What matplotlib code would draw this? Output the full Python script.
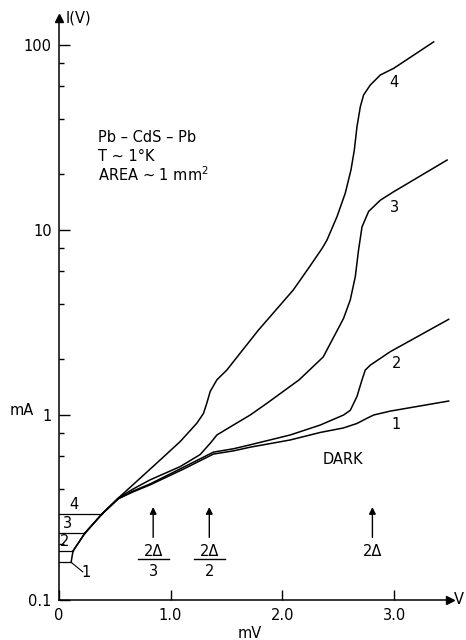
import matplotlib.pyplot as plt
from matplotlib.ticker import FixedLocator, FixedFormatter, NullFormatter

# I-V curves of Pb-CdS-Pb junction (mV, mA)
v1 = [0.111, 0.128, 0.235, 0.388, 0.534, 0.665, 0.817, 1.116, 1.295, 1.384,
      1.563, 1.713, 2.071, 2.340, 2.546, 2.668, 2.757, 2.817, 2.966, 3.488]
i1 = [0.160, 0.184, 0.230, 0.292, 0.353, 0.384, 0.419, 0.510, 0.578, 0.615,
      0.640, 0.670, 0.733, 0.805, 0.851, 0.90, 0.96, 1.00, 1.05, 1.19]

v2 = [0.128, 0.235, 0.388, 0.534, 0.665, 0.817, 1.116, 1.295, 1.384, 1.563,
      1.713, 2.071, 2.340, 2.548, 2.608, 2.668, 2.713, 2.742, 2.787, 2.966,
      3.488]
i2 = [0.184, 0.230, 0.292, 0.353, 0.388, 0.424, 0.522, 0.592, 0.630, 0.657,
      0.690, 0.780, 0.883, 1.00, 1.06, 1.26, 1.55, 1.75, 1.86, 2.20,
      3.29]

v3 = [0.235, 0.388, 0.534, 0.665, 0.817, 1.086, 1.265, 1.355, 1.415, 1.563,
      1.713, 1.865, 2.151, 2.366, 2.548, 2.608, 2.653, 2.682, 2.713, 2.772,
      2.877, 2.996, 3.474]
i3 = [0.230, 0.292, 0.356, 0.398, 0.446, 0.526, 0.611, 0.703, 0.780, 0.883,
      1.00, 1.16, 1.55, 2.06, 3.33, 4.19, 5.60, 7.80, 10.4, 12.6,
      14.5, 16.1, 23.9]

v4 = [0.388, 0.534, 0.728, 0.907, 1.086, 1.235, 1.295, 1.325, 1.355, 1.415,
      1.504, 1.623, 1.787, 2.098, 2.242, 2.355, 2.399, 2.489, 2.563, 2.614,
      2.644, 2.668, 2.698, 2.727, 2.787, 2.877, 2.996, 3.354]
i4 = [0.292, 0.356, 0.455, 0.571, 0.718, 0.902, 1.02, 1.16, 1.34, 1.55,
      1.75, 2.16, 2.88, 4.74, 6.31, 7.94, 8.81, 11.8, 15.8, 21.1,
      27.0, 36.2, 46.4, 53.7, 60.8, 68.9, 74.8, 104]

curves = [(v1, i1), (v2, i2), (v3, i3), (v4, i4)]
end_labels = ["1", "2", "3", "4"]
end_label_pos = [(3.02, 0.894), (3.02, 1.89), (3.0, 13.2), (3.0, 63)]
start_label_pos = [(0.244, 0.140), (0.056, 0.206), (0.083, 0.258), (0.137, 0.327)]

gap_x = [0.845, 1.347, 2.806]
gap_num = ["2\u0394", "2\u0394", "2\u0394"]
gap_den = ["3", "2", None]

yticks = [0.1, 1, 10, 100]
ylabels = ["0.1", "1", "10", "100"]
yminor = [m * d for d in [0.1, 1, 10] for m in [2, 4, 6, 8]]
xticks = [0, 1, 2, 3]
xlabels = ["0", "1.0", "2.0", "3.0"]

plt.rcParams['font.family'] = ['DejaVu Sans']
fs = 10.5

fig = plt.figure(figsize=(4.66, 6.40), dpi=100)
ax = fig.add_axes([58.7 / 466, 40 / 640, 391.3 / 466, 582 / 640])
ax.set_yscale('log')
ax.set_xlim(0, 3.5)
ax.set_ylim(0.1, 140)

for (v, i) in curves:
    ax.plot(v, i, color='k', lw=1.1, solid_joinstyle='round')
    # horizontal marker from the axis to the start of each curve
    ax.plot([0, v[0]], [i[0], i[0]], color='k', lw=0.9)

for lab, (x, y) in zip(end_labels, end_label_pos):
    ax.text(x, y, lab, fontsize=fs, ha='center', va='center')
for lab, (x, y) in zip(end_labels, start_label_pos):
    ax.text(x, y, lab, fontsize=fs, ha='center', va='center')
ax.plot([0.116, 0.215], [0.159, 0.142], color='k', lw=0.8)

ax.text(2.546, 0.578, "DARK", fontsize=fs, ha='center', va='center')

for x, num, den in zip(gap_x, gap_num, gap_den):
    ax.annotate("", xy=(x, 0.318), xytext=(x, 0.218),
                arrowprops=dict(arrowstyle='-|>', color='k', lw=1.0,
                                mutation_scale=10, shrinkA=0, shrinkB=0))
    ax.text(x, 0.183, num, fontsize=fs, ha='center', va='center')
    if den is not None:
        ax.plot([x - 0.14, x + 0.14], [0.167, 0.167], color='k', lw=1.0)
        ax.text(x, 0.143, den, fontsize=fs, ha='center', va='center')

ax.text(0.35, 31.8, "Pb \u2013 CdS \u2013 Pb", fontsize=fs, ha='left', va='center')
ax.text(0.35, 25.1, "T ~ 1\u00b0K", fontsize=fs, ha='left', va='center')
ax.text(0.35, 19.8, "AREA ~ 1 mm$^2$", fontsize=fs, ha='left', va='center')

ax.text(0.06, 140, "I(V)", fontsize=fs, ha='left', va='center')
ax.text(-0.33, 1.06, "mA", fontsize=fs, ha='center', va='center', clip_on=False)
ax.text(1.71, 0.066, "mV", fontsize=fs, ha='center', va='center', clip_on=False)
ax.text(3.535, 0.1, "V", fontsize=fs, ha='left', va='center', clip_on=False)

# axes with arrow heads
for s in ['top', 'right']:
    ax.spines[s].set_visible(False)
for s in ['left', 'bottom']:
    ax.spines[s].set_linewidth(1.1)
ax.plot(0, 1, '^k', ms=6, transform=ax.transAxes, clip_on=False)
ax.plot(1, 0, '>k', ms=6, transform=ax.transAxes, clip_on=False)

ax.yaxis.set_major_locator(FixedLocator(yticks))
ax.yaxis.set_major_formatter(FixedFormatter(ylabels))
ax.yaxis.set_minor_locator(FixedLocator(yminor))
ax.yaxis.set_minor_formatter(NullFormatter())
ax.set_xticks(xticks)
ax.set_xticklabels(xlabels)
ax.tick_params(axis='y', which='major', direction='in', length=8, width=1.0,
               labelsize=fs, pad=5)
ax.tick_params(axis='y', which='minor', direction='in', length=3.5, width=1.0)
ax.tick_params(axis='x', which='major', direction='in', length=7, width=1.0,
               labelsize=fs, pad=6)

fig.savefig("out.png", dpi=100)
